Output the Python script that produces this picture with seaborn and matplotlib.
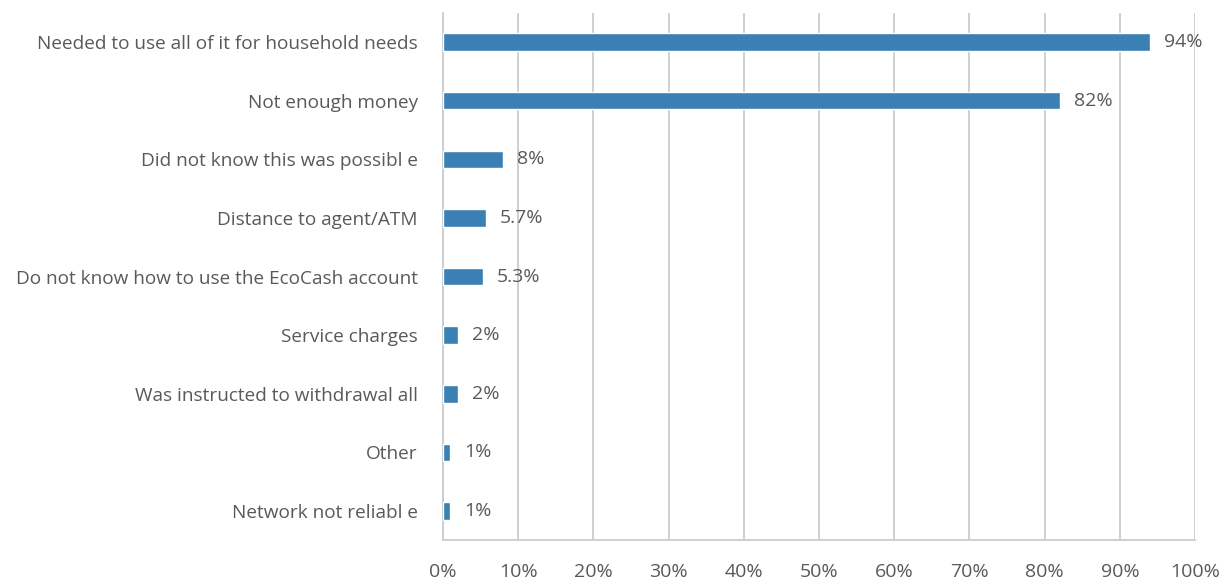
import matplotlib
matplotlib.use("Agg")
import matplotlib.pyplot as plt
import seaborn as sns
import pandas as pd
from matplotlib.ticker import PercentFormatter

# --- data ---
reasons = [
    "Needed to use all of it for household needs",
    "Not enough money",
    "Did not know this was possibl e",
    "Distance to agent/ATM",
    "Do not know how to use the EcoCash account",
    "Service charges",
    "Was instructed to withdrawal all",
    "Other",
    "Network not reliabl e",
]
shares = [94, 82, 8, 5.7, 5.3, 2, 2, 1, 1]
value_labels = ["94%", "82%", "8%", "5.7%", "5.3%", "2%", "2%", "1%", "1%"]

df = pd.DataFrame({"reason": reasons, "share": shares})

sns.set_style("white")
plt.rcParams["font.family"] = ["Open Sans", "DejaVu Sans"]

text_col = "#595959"
grid_col = "#c9cdcd"
bar_col = "#3a80b4"

fig = plt.figure(figsize=(12.25, 5.81), dpi=100)
ax = fig.add_axes([0.3616, 0.07, 0.614, 0.908])

sns.barplot(data=df, x="share", y="reason", color=bar_col, width=0.3,
            saturation=1, ax=ax, zorder=3)

for i, (v, lab) in enumerate(zip(shares, value_labels)):
    ax.annotate(lab, (v, i), xytext=(10, 0), textcoords="offset points",
                va="center", ha="left", fontsize=14, color=text_col)

ax.set_xlim(0, 100)
ax.set_xticks(range(0, 101, 10))
ax.xaxis.set_major_formatter(PercentFormatter(decimals=0))
ax.grid(axis="x", color=grid_col, linewidth=1.3, zorder=0)
ax.set_axisbelow(True)
for s in ["top", "right"]:
    ax.spines[s].set_visible(False)
ax.spines["left"].set_color(grid_col)
ax.spines["left"].set_linewidth(1.3)
ax.spines["bottom"].set_color(grid_col)
ax.spines["bottom"].set_linewidth(1.3)

ax.tick_params(axis="x", length=0, pad=16, labelsize=14, labelcolor=text_col)
ax.tick_params(axis="y", length=0, pad=18, labelsize=13.7, labelcolor=text_col)
ax.set_xlabel("")
ax.set_ylabel("")

fig.savefig("out.png", dpi=100)
